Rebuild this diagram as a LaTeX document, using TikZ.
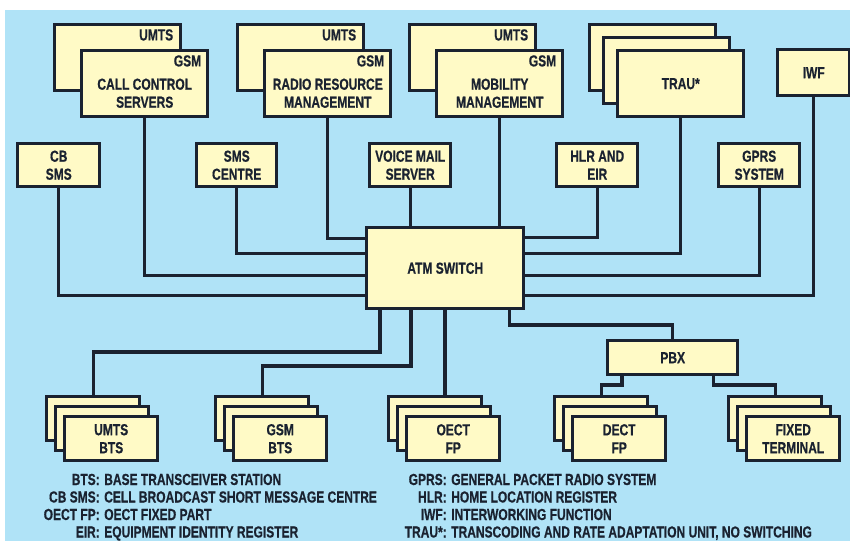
\documentclass[tikz,border=0pt]{standalone}
\usepackage{fontspec}
\setmainfont{Liberation Sans}[FakeStretch=0.75, BoldFeatures={FakeBold=0.5}]
\usepackage{xcolor}
\usetikzlibrary{calc}
\definecolor{sky}{HTML}{B0E3F7}
\definecolor{cream}{HTML}{FFFAC6}
\definecolor{ink}{HTML}{1A2230}

\begin{document}
\begin{tikzpicture}[x=0.75pt, y=-0.75pt,
  unit/.style={draw=ink, fill=cream, line width=2.6pt, inner sep=0pt, align=center,
    font=\bfseries\color{ink}\fontsize{12}{13.5}\selectfont},
  tag/.style={font=\bfseries\color{ink}\fontsize{12}{13.5}\selectfont, inner sep=0pt, align=center},
  wire/.style={draw=ink, line width=2.4pt},
  key/.style={font=\bfseries\color{ink}\fontsize{12}{13.5}\selectfont, inner sep=0pt}]
  \def\u{0.75pt}
  \useasboundingbox (0,0) rectangle (850,541);
  \clip (0,0) rectangle (850,541);
  \fill[sky] (5,10) rectangle (850,541);

  % switch in the middle
  \node[unit, minimum width=157*\u, minimum height=81*\u, anchor=north west] (atm) at (365,226) {ATM SWITCH};

  % top row: UMTS behind, GSM in front
  \foreach \n/\x/\t in {ccs/80/{CALL CONTROL\\SERVERS}, rrm/263/{RADIO RESOURCE\\MANAGEMENT}, mm/435/{MOBILITY\\MANAGEMENT}} {
    \node[unit, minimum width=126*\u, minimum height=66*\u, anchor=north west] (\n-b) at (\x-27,23) {};
    \node[tag, anchor=north east] (\n-u) at ($(\n-b.north east)+(-9,6)$) {UMTS};
    \node[unit, minimum width=126*\u, minimum height=66*\u, anchor=north west] (\n) at (\x,49) {};
    \node[tag, anchor=north east] (\n-g) at ($(\n.north east)+(-8,6)$) {GSM};
    \node[tag] (\n-t) at ($(\n.center)+(0,9.5)$) {\t};
  }
  \node[unit, minimum width=126*\u, minimum height=66*\u, anchor=north west] (trau-2) at (588,23) {};
  \node[unit, minimum width=126*\u, minimum height=66*\u, anchor=north west] (trau-1) at (602,36) {};
  \node[unit, minimum width=126*\u, minimum height=66*\u, anchor=north west] (trau) at (616,49) {TRAU*};
  \node[unit, minimum width=72*\u, minimum height=46*\u, anchor=north west] (iwf) at (776,48) {IWF};

  % middle row
  \foreach \n/\x/\w/\t in {cbsms/16/82/{CB\\SMS}, smsc/195/80/{SMS\\CENTRE}, vms/368/81/{VOICE MAIL\\SERVER},
      hlr/555/81/{HLR AND\\EIR}, gprs/717/81/{GPRS\\SYSTEM}}
    \node[unit, minimum width=\w*\u, minimum height=43*\u, anchor=north west] (\n) at (\x,142) {\t};

  % links into the switch
  \draw[wire] (cbsms.south) |- ($(atm.west)+(0,27.5)$);
  \draw[wire] (ccs.south) |- ($(atm.west)+(0,7.5)$);
  \draw[wire] (smsc.south) |- ($(atm.west)+(0,-14.5)$);
  \draw[wire] (rrm.south) |- ($(atm.west)+(0,-29.5)$);
  \draw[wire] (vms.south) -- (vms.south |- atm.north);
  \draw[wire] (mm.south) -- (mm.south |- atm.north);
  \draw[wire] (hlr.south) |- ($(atm.east)+(0,-30.5)$);
  \draw[wire] (trau.south) |- ($(atm.east)+(0,-14.5)$);
  \draw[wire] (gprs.south) |- ($(atm.east)+(0,7.5)$);
  \draw[wire] (iwf.south) |- ($(atm.east)+(0,27.5)$);

  % bottom row, three deep
  \node[unit, minimum width=130*\u, minimum height=34*\u, anchor=north west] (pbx) at (606,339) {PBX};
  \foreach \n/\x/\t in {umts/63/{UMTS\\BTS}, gsm/232/{GSM\\BTS}, oect/405/{OECT\\FP}, dect/571/{DECT\\FP}, fixed/745/{FIXED\\TERMINAL}} {
    \node[unit, minimum width=93*\u, minimum height=44*\u, anchor=north west] (\n-2) at (\x-18,395) {};
    \node[unit, minimum width=93*\u, minimum height=44*\u, anchor=north west] (\n-1) at (\x-9,405) {};
    \node[unit, minimum width=93*\u, minimum height=44*\u, anchor=north west] (\n) at (\x,415) {\t};
  }

  \coordinate (u1) at ($(atm.south west)+(15,0)$);
  \coordinate (g1) at ($(atm.south west)+(46,0)$);
  \coordinate (o1) at ($(atm.south west)+(80,0)$);
  \coordinate (p1) at ($(atm.south east)+(-16,0)$);
  \coordinate (d1) at ($(pbx.south west)+(16,0)$);
  \coordinate (f1) at ($(pbx.south east)+(-26,0)$);
  \draw[wire] (u1) |- ($(umts-2.north)+(0,-43)$) -- (umts-2.north);
  \draw[wire] (g1) |- ($(gsm-2.north)+(0,-29)$) -- (gsm-2.north);
  \draw[wire] (o1) -- (o1 |- oect-2.north);
  \draw[wire] (p1) |- ($(pbx.north)+(0,-14)$) -- (pbx.north);
  \draw[wire] (d1) |- ($(dect-2.north)+(0,-10)$) -- (dect-2.north);
  \draw[wire] (f1) |- ($(fixed-2.north)+(0,-10)$) -- (fixed-2.north);

  % key
  \foreach \k/\d [count=\i] in {BTS/BASE TRANSCEIVER STATION, CB SMS/CELL BROADCAST SHORT MESSAGE CENTRE,
      OECT FP/OECT FIXED PART, EIR/EQUIPMENT IDENTITY REGISTER} {
    \node[key, anchor=base east] (kl-\i) at (100,467.5+17.5*\i) {\k:};
    \node[key, anchor=base west] (dl-\i) at (104,467.5+17.5*\i) {\d};
  }
  \foreach \k/\d [count=\i] in {GPRS/GENERAL PACKET RADIO SYSTEM, HLR/HOME LOCATION REGISTER,
      IWF/INTERWORKING FUNCTION, TRAU*/{TRANSCODING AND RATE ADAPTATION UNIT, NO SWITCHING}} {
    \node[key, anchor=base east] (kr-\i) at (447,467.5+17.5*\i) {\k:};
    \node[key, anchor=base west] (dr-\i) at (451,467.5+17.5*\i) {\d};
  }
\end{tikzpicture}
\end{document}
